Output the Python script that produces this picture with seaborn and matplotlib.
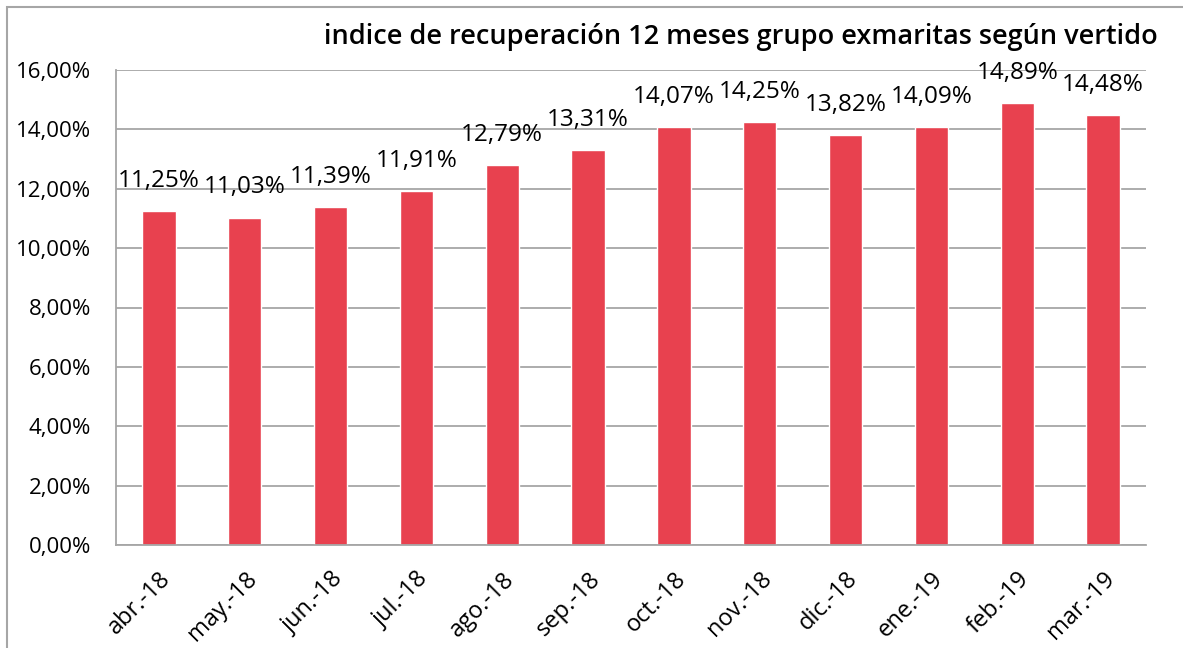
import numpy as np
import matplotlib
matplotlib.use("Agg")
import matplotlib.pyplot as plt
import seaborn as sns
from matplotlib.patches import Rectangle
from matplotlib.ticker import FuncFormatter

# data
months = ["abr.-18", "may.-18", "jun.-18", "jul.-18", "ago.-18", "sep.-18",
          "oct.-18", "nov.-18", "dic.-18", "ene.-19", "feb.-19", "mar.-19"]
recovery = [11.25, 11.03, 11.39, 11.91, 12.79, 13.31,
            14.07, 14.25, 13.82, 14.09, 14.89, 14.48]
title = "indice de recuperación 12 meses grupo exmaritas según vertido"

sns.set_style("white")
plt.rcParams["font.family"] = ["Open Sans", "DejaVu Sans"]
plt.rcParams["text.color"] = "black"
plt.rcParams["xtick.color"] = "black"
plt.rcParams["ytick.color"] = "black"

grey = "#A6A6A6"
bar_color = "#E8414F"

fig = plt.figure(figsize=(11.83, 6.48), dpi=100)
ax = fig.add_axes([116 / 1183, 1 - 545 / 648, (1146 - 116) / 1183, (545 - 70) / 648])

sns.barplot(x=months, y=recovery, color=bar_color, saturation=1, width=0.39, ax=ax)

ax.set_ylim(0, 16)
ax.set_xlim(-0.5, len(months) - 0.5)
ax.set_yticks(np.arange(0, 17, 2))
ax.yaxis.set_major_formatter(FuncFormatter(lambda v, p: f"{v:.2f}%".replace(".", ",")))
ax.yaxis.grid(True, color=grey, linewidth=1.3)
ax.set_axisbelow(True)

# category boundary ticks on x axis
ax.set_xticks(np.arange(-0.5, len(months), 1), minor=True)
ax.tick_params(axis="x", which="major", length=0, pad=16, labelsize=17)
ax.tick_params(axis="x", which="minor", length=6, width=1.3, color=grey, direction="out")
ax.tick_params(axis="y", length=6, width=1.3, color=grey, labelcolor="black",
               direction="out", pad=12, labelsize=16)
plt.setp(ax.get_xticklabels(), rotation=45, ha="right", rotation_mode="anchor")

for side in ["top", "right"]:
    ax.spines[side].set_visible(False)
for side in ["left", "bottom"]:
    ax.spines[side].set_color(grey)
    ax.spines[side].set_linewidth(1.3)

# value labels above the bars
for i, v in enumerate(recovery):
    ax.annotate(f"{v:.2f}%".replace(".", ","), (i, v), xytext=(0, 13),
                textcoords="offset points", ha="center", va="bottom", fontsize=17.5)

ax.set_xlabel("")
ax.set_ylabel("")

fig.text(1158 / 1183, 1 - 37 / 648, title, ha="right", va="center",
         fontsize=19.5, fontweight="semibold")

# outer chart frame
fig.patches.append(Rectangle((7 / 1183, -0.1), 1.2, 1 - 7 / 648 + 0.1, transform=fig.transFigure,
                             fill=False, edgecolor=grey, linewidth=1.5))

fig.savefig("out.png", dpi=100)
